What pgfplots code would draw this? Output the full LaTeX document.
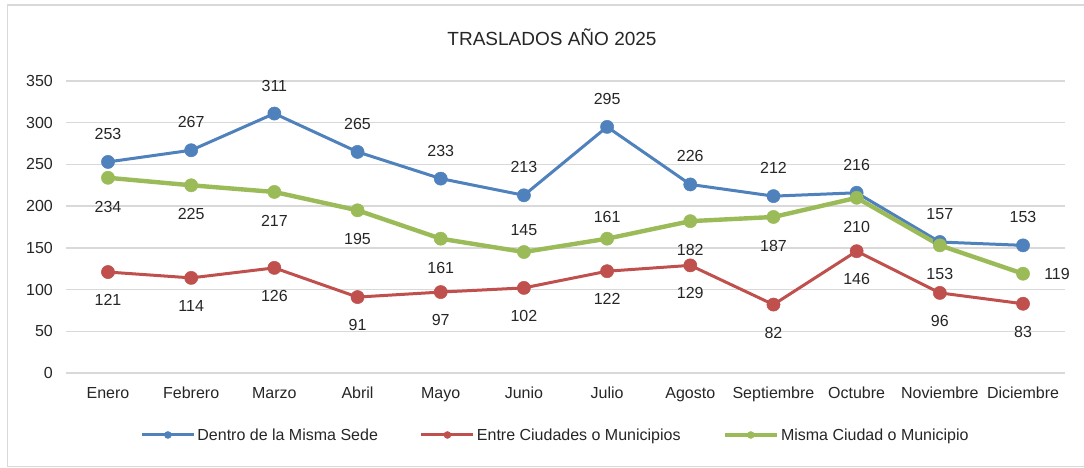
\documentclass[border=0pt]{standalone}
\usepackage{pgfplots}
\pgfplotsset{compat=1.18}
\usepackage{pgfplotstable}
\usepackage{fontspec}
\setmainfont{Liberation Sans}
\definecolor{cblue}{HTML}{4F81BD}
\definecolor{cred}{HTML}{C0504D}
\definecolor{cgreen}{HTML}{9BBB59}
\definecolor{cgrid}{HTML}{D9D9D9}
\definecolor{ctext}{HTML}{262626}

\pgfplotstableread{
x dentro entre misma
0 253 121 234
1 267 114 225
2 311 126 217
3 265 91 195
4 233 97 161
5 213 102 145
6 295 122 161
7 226 129 182
8 212 82 187
9 216 146 210
10 157 96 153
11 153 83 119
}\datatable

\newcommand{\lblfont}{\fontsize{16}{19}\selectfont}
\tikzset{labelnode/.style={anchor=center, font=\lblfont, text=ctext, inner sep=0pt}}

\begin{document}
\begin{tikzpicture}
\useasboundingbox (0,0) rectangle (1084pt,468pt);
\fill[white] (0,0) rectangle (1084pt,468pt);
\draw[cgrid, line width=1.2pt] (7.5pt,1.5pt) rectangle (1095pt,463pt);
\node[font=\fontsize{19}{22}\selectfont, text=ctext, anchor=center, inner sep=0pt] at (552pt,431pt) {TRASLADOS AÑO 2025};
\begin{axis}[
  at={(66.4pt,95pt)}, anchor=south west, scale only axis,
  width=998.2pt, height=292pt,
  xmin=-0.5, xmax=11.5, ymin=0, ymax=350,
  ytick={0,50,...,350},
  xtick={0,...,11},
  xticklabels={Enero,Febrero,Marzo,Abril,Mayo,Junio,Julio,Agosto,Septiembre,Octubre,Noviembre,Diciembre},
  axis line style={draw=none},
  major tick length=0pt,
  tick style={draw=none},
  ymajorgrids,
  major grid style={cgrid, line width=1.3pt},
  /pgf/number format/assume math mode=true,
  tick label style={font=\lblfont, text=ctext, inner sep=0pt},
  yticklabel style={anchor=east, xshift=-13.4pt},
  xticklabel style={anchor=base, yshift=-25.75pt},
  clip=false,
  legend style={at={(0.49,-0.2123)}, anchor=center, draw=none, fill=none,
    legend columns=3, font=\lblfont, text=ctext,
    /tikz/every even column/.append style={column sep=40pt}},
  legend cell align=left,
  legend image code/.code={\draw[#1, mark repeat=2, mark phase=2, mark size=3.5pt] plot coordinates {(0pt,0pt) (26pt,0pt) (52pt,0pt)};},
]
\addplot[cblue, line width=3pt, line join=round, mark=*, mark size=6.6pt, mark options={solid, fill=cblue, line width=0.5pt}] table[x=x,y=dentro]{\datatable};
\addlegendentry{Dentro de la Misma Sede}
\addplot[cred, line width=3pt, line join=round, mark=*, mark size=6.6pt, mark options={solid, fill=cred, line width=0.5pt}] table[x=x,y=entre]{\datatable};
\addlegendentry{Entre Ciudades o Municipios}
\addplot[cgreen, line width=4.4pt, line join=round, mark=*, mark size=6.6pt, mark options={solid, fill=cgreen, line width=0.5pt}] table[x=x,y=misma]{\datatable};
\addlegendentry{Misma Ciudad o Municipio}

% data labels
\addplot[draw=none, mark=none, forget plot, nodes near coords,
  every node near coord/.style={labelnode, yshift=28pt}] table[x=x,y=dentro]{\datatable};
\addplot[draw=none, mark=none, forget plot, nodes near coords,
  every node near coord/.style={labelnode, yshift=-28pt}] table[x=x,y=entre]{\datatable};
\addplot[draw=none, mark=none, forget plot, nodes near coords,
  x filter/.expression={(x==5 || x==6 || x==11) ? nan : x},
  every node near coord/.style={labelnode, yshift=-29pt}] table[x=x,y=misma]{\datatable};
\addplot[draw=none, mark=none, forget plot, nodes near coords,
  x filter/.expression={(x==5 || x==6) ? x : nan},
  every node near coord/.style={labelnode, yshift=22pt}] table[x=x,y=misma]{\datatable};
\addplot[draw=none, mark=none, forget plot, nodes near coords,
  x filter/.expression={(x==11) ? x : nan},
  every node near coord/.style={labelnode, xshift=34pt}] table[x=x,y=misma]{\datatable};
\end{axis}
\end{tikzpicture}
\end{document}
